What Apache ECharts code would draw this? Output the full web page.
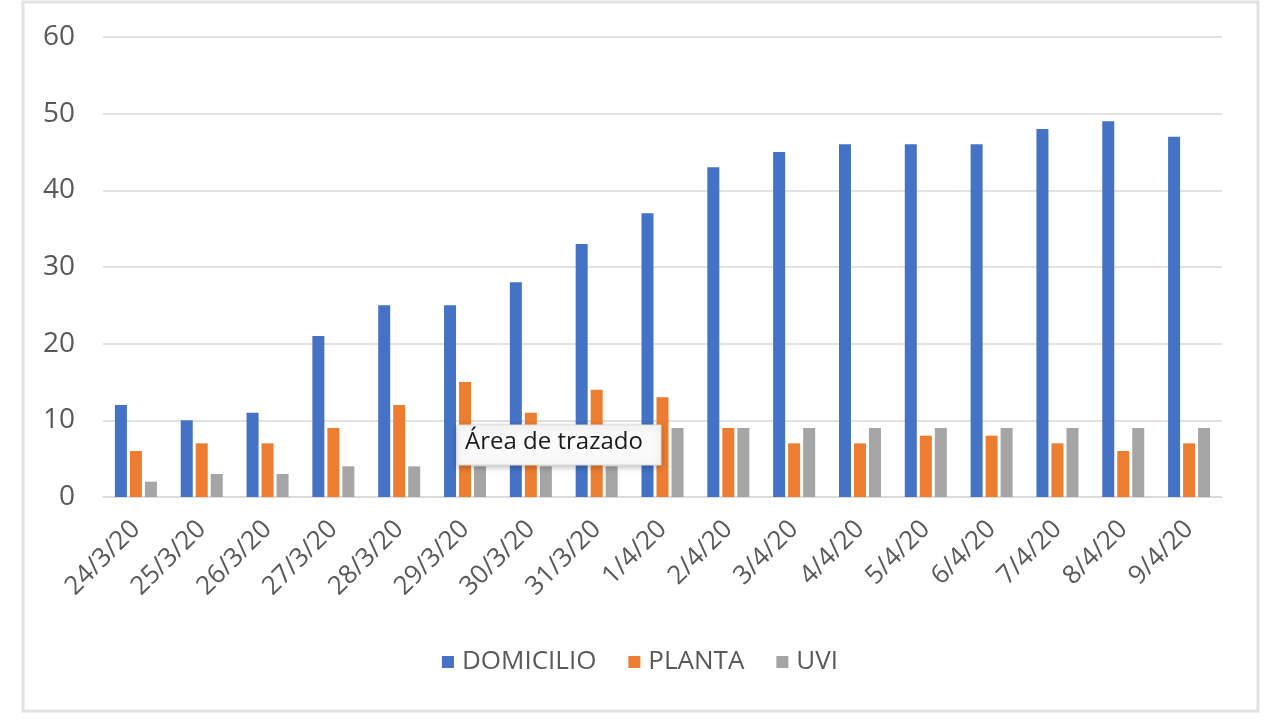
<!DOCTYPE html>
<html>
<head>
<meta charset="utf-8">
<script src="https://cdn.jsdelivr.net/npm/echarts@6/dist/echarts.min.js"></script>
<style>
    html, body { margin: 0; padding: 0; background: #fff; }
    #chart { width: 1280px; height: 720px; }
</style>
</head>
<body>
<div id="chart"></div>
<script>
    var fechas = ['24/3/20', '25/3/20', '26/3/20', '27/3/20', '28/3/20', '29/3/20', '30/3/20', '31/3/20',
        '1/4/20', '2/4/20', '3/4/20', '4/4/20', '5/4/20', '6/4/20', '7/4/20', '8/4/20', '9/4/20'];
    var domicilio = [12, 10, 11, 21, 25, 25, 28, 33, 37, 43, 45, 46, 46, 46, 48, 49, 47];
    var planta = [6, 7, 7, 9, 12, 15, 11, 14, 13, 9, 7, 7, 8, 8, 7, 6, 7];
    var uvi = [2, 3, 3, 4, 4, 4, 4, 4, 9, 9, 9, 9, 9, 9, 9, 9, 9];

    var fuente = '"Open Sans", sans-serif';

    function barra(nombre, datos, color) {
        return {
            name: nombre,
            type: 'bar',
            data: datos,
            barWidth: 12,
            barGap: '25%',
            itemStyle: { color: color }
        };
    }

    var myChart = echarts.init(document.getElementById('chart'));
    myChart.setOption({
        animation: false,
        textStyle: { fontFamily: fuente },
        grid: {
            left: 103,
            right: 58,
            top: 37,
            bottom: 223
        },
        legend: {
            top: 644,
            left: 'center',
            itemWidth: 12,
            itemHeight: 12,
            itemGap: 32,
            icon: 'rect',
            textStyle: { color: '#595959', fontSize: 26, fontFamily: fuente, padding: [0, 0, 0, 3] }
        },
        xAxis: {
            type: 'category',
            data: fechas,
            axisLine: { lineStyle: { color: '#d9d9d9', width: 1.5 } },
            axisTick: { length: 6, lineStyle: { color: '#d9d9d9' } },
            axisLabel: {
                rotate: 45,
                color: '#595959',
                fontSize: 26,
                margin: 28,
                interval: 0
            }
        },
        yAxis: {
            type: 'value',
            min: 0,
            max: 60,
            interval: 10,
            axisLine: { show: false },
            axisTick: { show: false },
            axisLabel: { color: '#595959', fontSize: 28, margin: 28 },
            splitLine: { lineStyle: { color: '#d9d9d9', width: 1.5 } }
        },
        series: [
            barra('DOMICILIO', domicilio, '#4472c4'),
            barra('PLANTA', planta, '#ed7d31'),
            barra('UVI', uvi, '#a5a5a5')
        ],
        graphic: [
            {
                type: 'rect',
                shape: { x: 23, y: 2, width: 1235, height: 709 },
                style: { fill: 'none', stroke: '#e2e2e2', lineWidth: 3 },
                silent: true
            },
            {
                type: 'rect',
                z: 100,
                shape: { x: 457, y: 425, width: 204, height: 40 },
                style: {
                    fill: '#fafafa',
                    stroke: '#dddddd',
                    lineWidth: 1,
                    shadowBlur: 6,
                    shadowColor: 'rgba(0,0,0,0.25)',
                    shadowOffsetY: 2
                }
            },
            {
                type: 'text',
                z: 101,
                x: 465,
                y: 430,
                style: {
                    text: 'Área de trazado',
                    fill: '#1a1a1a',
                    fontSize: 24,
                    fontFamily: fuente
                }
            }
        ]
    });
</script>
</body>
</html>
